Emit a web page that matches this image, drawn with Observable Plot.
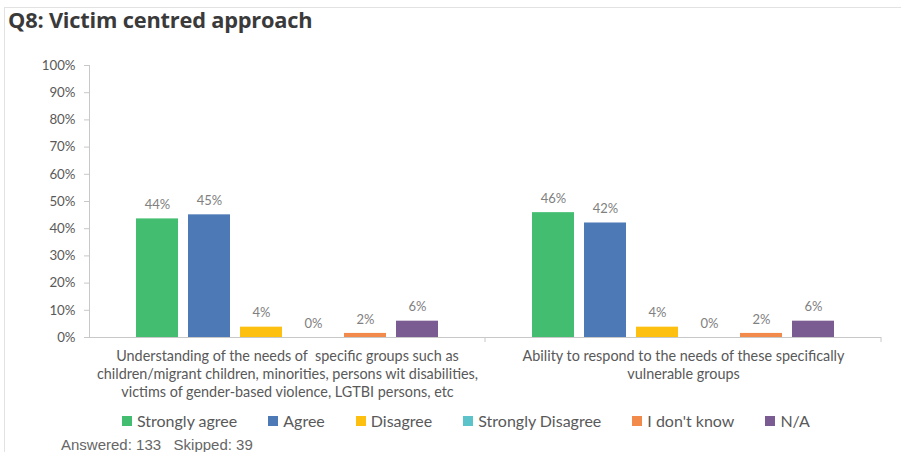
<!DOCTYPE html>
<html>
<head>
<meta charset="utf-8">
<script src="https://cdn.jsdelivr.net/npm/d3@7"></script>
<script src="https://cdn.jsdelivr.net/npm/@observablehq/plot@0.6"></script>
<style>
  html, body { margin: 0; padding: 0; background: #fff; }
  #wrap { position: relative; width: 901px; height: 452px; overflow: hidden; background: #fff; }
  #frame { position: absolute; left: 4px; top: 7px; right: -2px; bottom: -2px; border-top: 1px solid #e2e2e2; border-left: 1px solid #e2e2e2; pointer-events: none; z-index: 5; }
  #title { position: absolute; left: 8px; top: 5px; font-family: "Open Sans", sans-serif; font-weight: 700; font-size: 21.8px; color: #3a3a3a; z-index: 4; letter-spacing: -0.2px; }
  #chart { position: absolute; left: 0; top: 0; }
  #legend { position: absolute; left: 122px; top: 411px; display: flex; align-items: center; font-family: Lato, sans-serif; font-size: 16px; color: #595959; z-index: 4; white-space: nowrap; }
  #legend .item { display: flex; align-items: center; margin-right: 31px; }
  #legend .sw { width: 10px; height: 10px; margin-right: 5px; }
  #caption { position: absolute; left: 61px; top: 436px; font-family: "Liberation Sans", Arial, sans-serif; font-size: 15px; color: #666; z-index: 4; white-space: pre; }
</style>
</head>
<body>
<div id="wrap">
  <div id="chart"></div>
  <div id="title">Q8: Victim centred approach</div>
  <div id="legend"></div>
  <div id="caption"></div>
  <div id="frame"></div>
</div>
<script>
// ---- data ----
const categories = [
  "Understanding of the needs of  specific groups such as children/migrant children, minorities, persons wit disabilities, victims of gender-based violence, LGTBI persons, etc",
  "Ability to respond to the needs of these specifically vulnerable groups"
];
const categoryLines = [
  ["Understanding of the needs of  specific groups such as", "children/migrant children, minorities, persons wit disabilities,", "victims of gender-based violence, LGTBI persons, etc"],
  ["Ability to respond to the needs of these specifically", "vulnerable groups"]
];
const series = ["Strongly agree", "Agree", "Disagree", "Strongly Disagree", "I don't know", "N/A"];
const colors = ["#43be70", "#4d7ab6", "#fdc010", "#5cc3cb", "#f28a4c", "#7a5c92"];
const valuesUnderstanding = [43.6, 45.1, 3.8, 0, 1.5, 6.0];
const valuesAbility = [45.9, 42.1, 3.8, 0, 1.5, 6.0];
const yTicks = [0, 10, 20, 30, 40, 50, 60, 70, 80, 90, 100];
const caption = "Answered: 133   Skipped: 39";

// ---- table ----
const seriesValues = [valuesUnderstanding, valuesAbility];
const rows = [];
categories.forEach((c, i) => series.forEach((s, j) => rows.push({category: c, series: s, value: seriesValues[i][j]})));
const wrapLabel = new Map(categories.map((c, i) => [c, categoryLines[i].join("\n")]));

const W = 901, H = 452;
const plot = Plot.plot({
  width: W,
  height: H,
  marginTop: 65,
  marginBottom: 115,
  marginLeft: 89,
  marginRight: 20,
  style: {background: "transparent", overflow: "visible"},
  fx: {domain: categories, padding: 0, axis: null, label: null},
  x: {domain: series, axis: null, paddingInner: 0.2, paddingOuter: 0.87},
  y: {domain: [0, 100], axis: null},
  color: {domain: series, range: colors},
  marks: [
    Plot.barY(rows, {fx: "category", x: "series", y: "value", fill: "series"}),
    Plot.ruleY([0], {stroke: "#c8c8c8", strokeWidth: 1}),
    Plot.text(rows, {fx: "category", x: "series", y: "value", text: d => Math.round(d.value) + "%", dy: -14, fill: "#808080", fontSize: 13, fontFamily: "Lato, sans-serif"}),
    Plot.axisY({ticks: yTicks, tickFormat: d => d + "%", tickSize: 5, tickPadding: 9, stroke: "#c8c8c8", fill: "#595959", fontSize: 13.3, fontFamily: "Lato, sans-serif", label: null}),
    Plot.axisFx({anchor: "bottom", tickSize: 0, tickPadding: 10, tickFormat: d => wrapLabel.get(d), lineHeight: 1.28, fill: "#595959", fontSize: 14.4, fontFamily: "Lato, sans-serif", label: null})
  ]
});
document.getElementById("chart").appendChild(plot);

// axis line and category boundary ticks, positioned from the plot's own scales
const yS = plot.scale("y"), fxS = plot.scale("fx");
const y0 = yS.apply(0), y100 = yS.apply(100);
const svg = d3.select(plot);
const x0 = fxS.apply(categories[0]);
svg.append("line").attr("x1", x0 + 0.5).attr("x2", x0 + 0.5).attr("y1", y100).attr("y2", y0)
  .attr("stroke", "#c8c8c8");
categories.forEach(c => {
  const xe = fxS.apply(c) + fxS.bandwidth;
  svg.append("line").attr("x1", xe).attr("x2", xe).attr("y1", y0).attr("y2", y0 + 5).attr("stroke", "#c8c8c8");
});

// legend
const leg = d3.select("#legend");
series.forEach((s, i) => {
  const it = leg.append("div").attr("class", "item");
  it.append("div").attr("class", "sw").style("background", colors[i]);
  it.append("span").text(s);
});
document.getElementById("caption").textContent = caption;
</script>
</body>
</html>
